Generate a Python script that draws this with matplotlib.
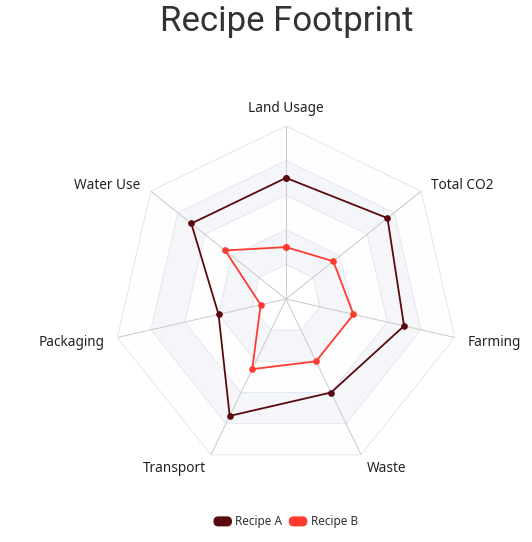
import numpy as np
import matplotlib
matplotlib.use('Agg')
import matplotlib.pyplot as plt
from matplotlib.patches import Patch, FancyBboxPatch
from matplotlib.legend_handler import HandlerPatch

# data
labels = ['Land Usage', 'Total CO2', 'Farming', 'Waste', 'Transport', 'Packaging', 'Water Use']
recipe_a = [7, 7.5, 7, 6, 7.5, 4, 7]
recipe_b = [3, 3.5, 4, 4, 4.5, 1.5, 4.5]
max_val = 10
levels = [2, 4, 6, 8, 10]

color_a = '#5a0a0f'
color_b = '#ff3b30'

fig = plt.figure(figsize=(5.32, 5.42), dpi=100)
W, H = 532, 542
cx, cy, R = 286, 299, 173
ax = fig.add_axes([(cx - R) / W, (H - cy - R) / H, 2 * R / W, 2 * R / H], projection='polar')
ax.set_theta_offset(np.pi / 2)
ax.set_theta_direction(-1)
ax.set_ylim(0, max_val)
ax.axis('off')

n = len(labels)
theta = np.arange(n) * 2 * np.pi / n
closed = np.append(theta, theta[0])

# split areas (alternating bands), outermost first
band_colors = ['#fefefe', '#f5f6fa', '#fefefe', '#f5f6fa', '#ffffff']
for lv, c in zip(levels[::-1], band_colors):
    ax.fill(closed, [lv] * (n + 1), color=c, zorder=1, lw=0)

# rings
for lv in levels:
    ax.plot(closed, [lv] * (n + 1), color='#e4e8f2', lw=0.75, zorder=2)
# spokes
for t in theta:
    ax.plot([t, t], [0, max_val], color='#cccccc', lw=0.75, zorder=2)

# series
for vals, c, name in [(recipe_a, color_a, 'Recipe A'), (recipe_b, color_b, 'Recipe B')]:
    v = np.append(vals, vals[0])
    ax.plot(closed, v, color=c, lw=1.3, marker='o', ms=3.8, zorder=5, label=name)

# axis names
gap = 12.8 / R * max_val
for t, lab in zip(theta, labels):
    sx, sy = np.sin(t), np.cos(t)
    if sy > 0.99:
        ax.text(t, max_val + 10 / R * max_val, lab, ha='center', va='bottom',
                fontsize=9.8, color='#222222', family='Noto Sans')
        continue
    ha = 'left' if sx > 0.01 else ('right' if sx < -0.01 else 'center')
    ax.text(t, max_val + gap, lab, ha=ha, va='center_baseline',
            fontsize=9.8, color='#222222', family='Noto Sans')

fig.text(287 / W, 1 - 31 / H, 'Recipe Footprint', ha='center', va='baseline',
         fontsize=25, color='#333333', family='Roboto')


def rounded(legend, orig_handle, xdescent, ydescent, width, height, fontsize):
    return FancyBboxPatch((-xdescent, -ydescent), width, height,
                          boxstyle='round,pad=0,rounding_size=3')


handles = [Patch(color=color_a, label='Recipe A'), Patch(color=color_b, label='Recipe B')]
fig.legend(handles=handles, loc='center', bbox_to_anchor=(286 / W, 1 - 522 / H), ncol=2,
           frameon=False, fontsize=8.5, handlelength=1.45, handleheight=0.75,
           handletextpad=0.35, columnspacing=0.6,
           handler_map={Patch: HandlerPatch(patch_func=rounded)},
           prop={'family': 'Noto Sans', 'size': 8.5}, labelcolor='#333333')

fig.savefig('out.png', dpi=100)
